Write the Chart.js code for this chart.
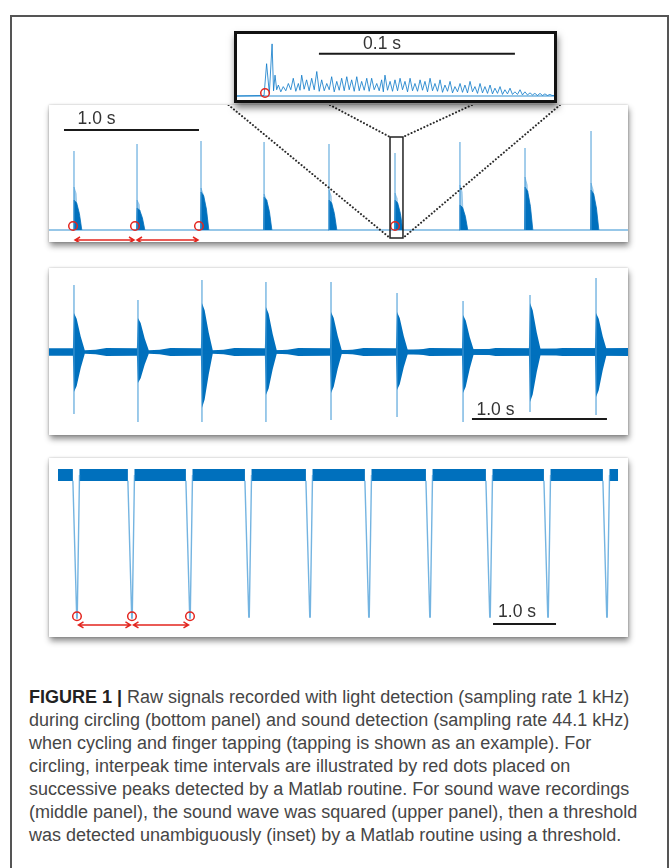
<!DOCTYPE html>
<html>
<head>
<meta charset="utf-8">
<script src="https://cdn.jsdelivr.net/npm/chart.js@4.4.1/dist/chart.umd.min.js"></script>
<style>
  body { margin: 0; background: #fff; width: 670px; height: 868px; overflow: hidden; position: relative; font-family: "Liberation Sans", Arial, sans-serif; }
  #frame { position: absolute; left: 10px; top: 15px; width: 659px; height: 900px; border: 2px solid #555; box-sizing: border-box; }
  .panel { position: absolute; background: #fff; box-shadow: 1px 4px 6px rgba(0,0,0,.45), 0 0 2px rgba(0,0,0,.25); }
  #p1 { left: 49px; top: 105px; width: 579px; height: 137px; }
  #p2 { left: 49px; top: 268px; width: 579px; height: 167px; }
  #p3 { left: 49px; top: 458px; width: 579px; height: 179px; }
  #inset { position: absolute; left: 234px; top: 31px; width: 323px; height: 72px; border: 3px solid #111; box-sizing: border-box; background: #fff; box-shadow: 1px 5px 7px rgba(0,0,0,.5); }
  canvas { display: block; }
  #caption { position: absolute; left: 29px; top: 686px; font-size: 18px; line-height: 23px; color: #464646; white-space: nowrap; }
  #caption b { color: #222; }
</style>
</head>
<body>
<div id="frame"></div>
<div class="panel" id="p1"><canvas id="c1" width="579" height="137"></canvas></div>
<div class="panel" id="p2"><canvas id="c2" width="579" height="167"></canvas></div>
<div class="panel" id="p3"><canvas id="c3" width="579" height="179"></canvas></div>
<div id="inset"><canvas id="c4" width="317" height="66"></canvas></div>
<div id="caption">
  <div><b>FIGURE 1 |</b> Raw signals recorded with light detection (sampling rate 1 kHz)</div>
  <div>during circling (bottom panel) and sound detection (sampling rate 44.1 kHz)</div>
  <div>when cycling and finger tapping (tapping is shown as an example). For</div>
  <div>circling, interpeak time intervals are illustrated by red dots placed on</div>
  <div>successive peaks detected by a Matlab routine. For sound wave recordings</div>
  <div>(middle panel), the sound wave was squared (upper panel), then a threshold</div>
  <div>was detected unambiguously (inset) by a Matlab routine using a threshold.</div>
</div>
<script>
// colours
const BLUE = "rgb(0,112,189)";
const BLUE_LIGHT = "rgba(70,155,215,0.75)";
const BLUE_FAINT = "rgba(90,165,220,0.5)";
const RED = "#e3261f";

// ---------- upper panel: squared sound wave (s, a.u.) ----------
const sqPeakTimes = [0.185, 0.652, 1.126, 1.593, 2.074, 2.563, 3.044, 3.526, 4.015];
const sqPeakMax   = [0.79, 0.86, 0.89, 0.88, 0.86, 0.77, 0.88, 0.82, 0.99];
const sqShoulder  = [0.43, 0.30, 0.42, 0.36, 0.40, 0.37, 0.45, 0.53, 0.47];
const sqBody      = [0.30, 0.22, 0.38, 0.33, 0.30, 0.30, 0.25, 0.43, 0.40];
const sqDecayT    = [0, 0.02, 0.04, 0.058];
const sqDecayA    = [1, 0.9, 0.55, 0];
const sqOnsets    = [0.178, 0.637, 1.111, 2.563];

// ---------- middle panel: raw sound wave ----------
const waveTimes   = [0.185, 0.659, 1.133, 1.607, 2.089, 2.578, 3.067, 3.563, 4.052];
const wavePosPeak = [0.67, 0.52, 0.72, 0.70, 0.70, 0.59, 0.51, 0.57, 0.74];
const waveNegPeak = [-0.62, -0.70, -0.70, -0.70, -0.68, -0.65, -0.70, -0.60, -0.63];
const wavePosBody = [0.39, 0.34, 0.49, 0.45, 0.40, 0.40, 0.37, 0.49, 0.39];
const waveNegBody = [-0.40, -0.31, -0.56, -0.43, -0.41, -0.38, -0.41, -0.50, -0.45];
const waveBodyT   = [0, 0.02, 0.05];
const waveBodyA   = [1, 0.85, 0.4];
const waveNoiseT  = [0.08, 0.16, 0.24];        // after each burst
const waveNoiseA  = [0.018, 0.022, 0.04];
const waveNoise   = 0.038;

// ---------- bottom panel: light detection, circling ----------
const lightDipTimes = [0.444, 1.317, 2.238, 3.175, 4.143, 5.079, 6.048, 7.0, 7.921, 8.857];
const lightDipMin   = [-0.007, -0.007, -0.007, 0, 0, 0, 0, 0, 0, 0];
const lightStart = 0.143, lightEnd = 9.032, lightLevel = 1.0;
const lightMarked = [0.444, 1.317, 2.238];

// ---------- inset: squared wave around one onset (ms) ----------
const insetPeakT = [15.1, 17.9, 19.4, 21.1, 23.6, 26.2, 28.7, 31.3, 33.0, 35.5, 38.1, 40.7,
  43.2, 45.8, 48.3, 50.9, 53.4, 56.0, 58.5, 61.1, 63.6, 66.2,
  68.7, 71.3, 73.8, 75.5, 78.1, 80.6, 83.2, 85.7, 88.3, 90.8,
  93.4, 95.9, 98.5, 101.0, 103.6, 106.1, 108.7, 111.2, 113.8, 116.3,
  118.9, 121.4, 124.0, 126.5, 129.1, 131.6, 134.2, 136.7, 139.3, 141.8,
  144.4, 146.9, 149.5, 152.0, 154.6, 157.1, 159.7];
const insetPeakA = [0.62, 1.0, 0.40, 0.21, 0.18, 0.24, 0.34, 0.24, 0.40, 0.31, 0.34, 0.47,
  0.31, 0.24, 0.37, 0.28, 0.34, 0.37, 0.31, 0.37, 0.28, 0.34,
  0.34, 0.24, 0.31, 0.40, 0.28, 0.31, 0.34, 0.28, 0.34, 0.24,
  0.31, 0.28, 0.34, 0.24, 0.31, 0.21, 0.28, 0.18, 0.24, 0.21,
  0.28, 0.18, 0.24, 0.18, 0.21, 0.15, 0.18, 0.12, 0.15, 0.08,
  0.12, 0.08, 0.06, 0.05, 0.05, 0.04, 0.03];
const insetTroughA = [0.05, 0.10, 0.12, 0.08, 0.10, 0.12, 0.09, 0.11, 0.13, 0.10,
  0.12, 0.09, 0.10, 0.12, 0.08, 0.11, 0.10, 0.12, 0.09, 0.10,
  0.11, 0.09, 0.12, 0.10, 0.08, 0.11, 0.09, 0.10, 0.12, 0.08,
  0.10, 0.09, 0.11, 0.08, 0.10, 0.09, 0.07, 0.09, 0.06, 0.08,
  0.07, 0.06, 0.08, 0.05, 0.06, 0.05, 0.04, 0.05, 0.03, 0.04,
  0.03, 0.03, 0.02, 0.02, 0.02, 0.01, 0.01, 0.01, 0.01];
const insetOnset = 14.3;

// ---------- helpers ----------
function gap(x) { return { x: x, y: null }; }

function overlay(cfg) {
  return {
    id: "overlay",
    afterDatasetsDraw(chart) {
      const { ctx, scales: { x, y } } = chart;
      ctx.save();
      (cfg.bars || []).forEach(b => {
        ctx.strokeStyle = "#1a1a1a";
        ctx.lineWidth = 2;
        ctx.beginPath();
        ctx.moveTo(x.getPixelForValue(b.t0), y.getPixelForValue(b.y));
        ctx.lineTo(x.getPixelForValue(b.t0 + b.len), y.getPixelForValue(b.y));
        ctx.stroke();
        ctx.fillStyle = "#333";
        ctx.font = '17.5px "Liberation Sans", Arial, sans-serif';
        ctx.textAlign = "center";
        ctx.textBaseline = "middle";
        ctx.fillText(b.label, x.getPixelForValue(b.lx), y.getPixelForValue(b.ly));
      });
      if (cfg.arrows) {
        const a = cfg.arrows;
        ctx.strokeStyle = RED;
        ctx.lineWidth = 1.5;
        const py = y.getPixelForValue(a.y);
        for (let i = 0; i < a.times.length - 1; i++) {
          const x1 = x.getPixelForValue(a.times[i]) + a.gl;
          const x2 = x.getPixelForValue(a.times[i + 1]) - a.gr;
          ctx.beginPath();
          ctx.moveTo(x1, py); ctx.lineTo(x2, py);
          ctx.moveTo(x1 + 5, py - 3); ctx.lineTo(x1, py); ctx.lineTo(x1 + 5, py + 3);
          ctx.moveTo(x2 - 5, py - 3); ctx.lineTo(x2, py); ctx.lineTo(x2 - 5, py + 3);
          ctx.stroke();
        }
      }
      ctx.restore();
    }
  };
}

function makeChart(id, xMax, yMin, yMax, datasets, plugins) {
  return new Chart(document.getElementById(id), {
    type: "line",
    data: { datasets },
    options: {
      responsive: false,
      animation: false,
      devicePixelRatio: 1,
      layout: { padding: 0, autoPadding: false },
      plugins: { legend: { display: false }, tooltip: { enabled: false } },
      scales: {
        x: { type: "linear", min: 0, max: xMax, display: false },
        y: { min: yMin, max: yMax, display: false }
      },
      elements: { point: { radius: 0 }, line: { tension: 0 } }
    },
    plugins: plugins
  });
}

function circles(times, yv) {
  return {
    data: times.map(t => ({ x: t, y: yv })),
    showLine: false,
    clip: false,
    pointRadius: 4.3,
    pointStyle: "circle",
    pointBorderColor: RED,
    pointBorderWidth: 1.5,
    pointBackgroundColor: "rgba(0,0,0,0)"
  };
}

// ---------- upper panel ----------
(function () {
  const xMax = 579 / 135;
  const body = [], shoulder = [], lines = [];
  sqPeakTimes.forEach((t, i) => {
    body.push({ x: t - 0.004, y: 0 });
    sqDecayT.forEach((d, k) => body.push({ x: t + d, y: sqBody[i] * sqDecayA[k] }));
    body.push(gap(t + 0.065));
    shoulder.push({ x: t - 0.002, y: 0 });
    shoulder.push({ x: t, y: sqShoulder[i] });
    shoulder.push({ x: t + 0.016, y: sqShoulder[i] * 0.85 });
    shoulder.push({ x: t + 0.028, y: 0 });
    shoulder.push(gap(t + 0.035));
    lines.push({ x: t, y: 0 }, { x: t, y: sqPeakMax[i] }, gap(t));
  });
  const rectT = [2.526, 2.622], rectY = [0.93, -0.08];
  const zoomLines = {
    id: "zoomLines",
    afterDatasetsDraw(chart) {
      const { ctx, scales: { x, y } } = chart;
      ctx.save();
      ctx.strokeStyle = "#222";
      ctx.lineWidth = 1.5;
      ctx.strokeRect(x.getPixelForValue(rectT[0]), y.getPixelForValue(rectY[0]),
        x.getPixelForValue(rectT[1]) - x.getPixelForValue(rectT[0]),
        y.getPixelForValue(rectY[1]) - y.getPixelForValue(rectY[0]));
      ctx.strokeStyle = "#2a2a2a";
      ctx.lineWidth = 2;
      ctx.lineCap = "round";
      ctx.setLineDash([0.1, 3.4]);
      const top = y.getPixelForValue(1.25);
      [[1.33, rectT[0], rectY[1]], [2.081, rectT[0], rectY[0]],
       [3.133, rectT[1], rectY[0]], [3.785, rectT[1], rectY[1]]].forEach(l => {
        ctx.beginPath();
        ctx.moveTo(x.getPixelForValue(l[0]), top);
        ctx.lineTo(x.getPixelForValue(l[1]), y.getPixelForValue(l[2]));
        ctx.stroke();
      });
      ctx.restore();
    }
  };
  makeChart("c1", xMax, -0.12, 1.25, [
    circles(sqOnsets, 0.04),
    { data: lines, borderColor: BLUE_LIGHT, borderWidth: 1.3 },
    { data: body, borderColor: BLUE, borderWidth: 0.8, backgroundColor: BLUE, fill: "origin" },
    { data: shoulder, borderColor: BLUE_FAINT, borderWidth: 1, backgroundColor: BLUE_FAINT, fill: "origin" },
    { data: [{ x: 0, y: 0 }, { x: xMax, y: 0 }], borderColor: BLUE_LIGHT, borderWidth: 1.5 }
  ], [overlay({
    bars: [{ t0: 0.111, len: 1.0, y: 1.0, label: "1.0 s", lx: 0.352, ly: 1.11 }],
    arrows: { times: sqOnsets.slice(0, 3), y: -0.10, gl: 2, gr: 1 }
  }), zoomLines]);
})();

// ---------- middle panel ----------
(function () {
  const xMax = 579 / 135;
  function envelope(sign, bodies) {
    const pts = [{ x: 0, y: sign * waveNoise }];
    waveTimes.forEach((t, i) => {
      pts.push({ x: t - 0.008, y: sign * waveNoise });
      waveBodyT.forEach((d, k) => pts.push({ x: t + d, y: bodies[i] * waveBodyA[k] }));
      waveNoiseT.forEach((d, k) => pts.push({ x: t + d, y: sign * waveNoiseA[k] }));
    });
    pts.push({ x: xMax, y: sign * waveNoise });
    return pts;
  }
  const lines = [];
  waveTimes.forEach((t, i) => lines.push({ x: t, y: waveNegPeak[i] }, { x: t, y: wavePosPeak[i] }, gap(t)));
  makeChart("c2", xMax, -0.83, 0.84, [
    { data: lines, borderColor: BLUE_LIGHT, borderWidth: 1.4 },
    { data: envelope(1, wavePosBody), borderColor: BLUE, borderWidth: 0, backgroundColor: BLUE, fill: "origin" },
    { data: envelope(-1, waveNegBody), borderColor: BLUE, borderWidth: 0, backgroundColor: BLUE, fill: "origin" }
  ], [overlay({
    bars: [{ t0: 3.133, len: 1.0, y: -0.67, label: "1.0 s", lx: 3.307, ly: -0.58 }]
  })]);
})();

// ---------- bottom panel ----------
(function () {
  const xMax = 579 / 63;
  const band = [{ x: lightStart, y: lightLevel }];
  const dips = [];
  lightDipTimes.forEach((t, i) => {
    band.push({ x: t - 0.065, y: lightLevel }, gap(t), { x: t + 0.04, y: lightLevel });
    dips.push({ x: t - 0.065, y: 0.96 }, { x: t - 0.004, y: lightDipMin[i] },
      { x: t + 0.004, y: lightDipMin[i] }, { x: t + 0.04, y: 1.0 }, gap(t + 0.05));
  });
  band.push({ x: lightEnd, y: lightLevel });
  makeChart("c3", xMax, -0.141, 1.12, [
    circles(lightMarked, 0.005),
    { data: dips, borderColor: BLUE_LIGHT, borderWidth: 1.4 },
    { data: band, borderColor: BLUE, borderWidth: 12, borderCapStyle: "butt" }
  ], [overlay({
    bars: [{ t0: 7.048, len: 1.0, y: -0.049, label: "1.0 s", lx: 7.43, ly: 0.035 }],
    arrows: { times: lightMarked, y: -0.056, gl: 1.5, gr: 1.5 }
  })]);
})();

// ---------- inset ----------
(function () {
  const xMax = 317 / 1.96;
  const sig = [{ x: 0, y: 0 }, { x: 13.8, y: 0.01 }];
  insetPeakT.forEach((t, i) => {
    sig.push({ x: t, y: insetPeakA[i] });
    const next = i < insetPeakT.length - 1 ? insetPeakT[i + 1] : xMax;
    sig.push({ x: (t + next) / 2, y: insetTroughA[i] });
  });
  sig.push({ x: xMax, y: 0.01 });
  makeChart("c4", xMax, -0.077, 1.19, [
    circles([insetOnset], 0.058),
    { data: sig, borderColor: "rgba(10,120,200,0.8)", borderWidth: 1 },
    { data: [{ x: 0, y: 0 }, { x: xMax, y: 0 }], borderColor: BLUE_LIGHT, borderWidth: 1.5 }
  ], [overlay({
    bars: [{ t0: 41.8, len: 100, y: 0.81, label: "0.1 s", lx: 74, ly: 1.0 }]
  })]);
})();
</script>
</body>
</html>
